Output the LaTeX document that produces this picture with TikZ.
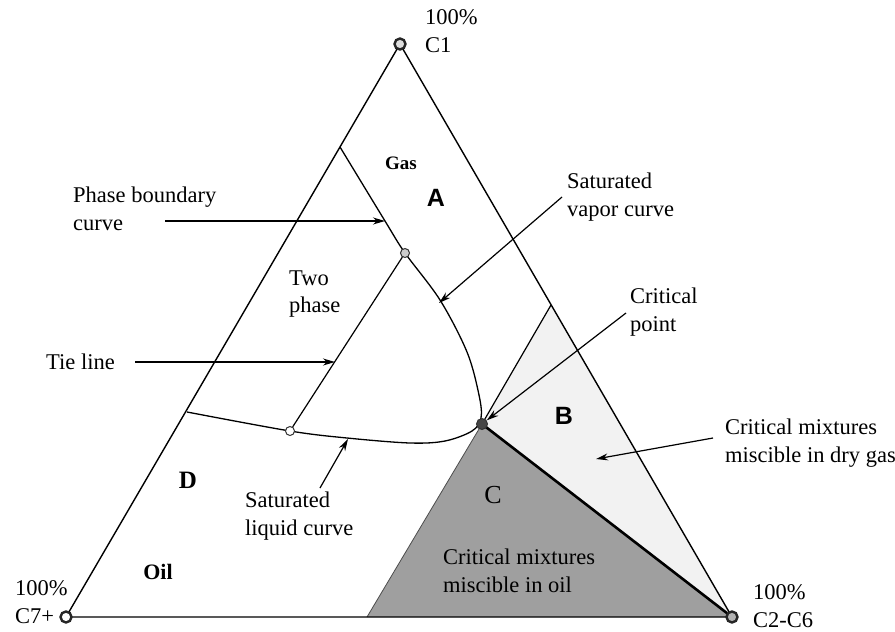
\documentclass[tikz,border=0pt]{standalone}
\usepackage{fontspec}
\setmainfont{Liberation Serif}
\newfontfamily\regionfont{Liberation Sans}
\usetikzlibrary{arrows.meta}

\begin{document}
\begin{tikzpicture}[x=1pt,y=-1pt,>={Stealth[length=12pt,width=7pt]},
  lbl/.style={anchor=west,align=left,inner sep=0pt,font=\fontsize{22.5}{27.5}\selectfont},
  ptr/.style={->,line width=1.2pt},
  vtx/.style={circle,draw=black!85,line width=2.4pt,fill=gray!25,minimum size=11pt,inner sep=0pt},
  tie/.style={circle,draw=black!80,line width=1pt,fill=white,minimum size=9pt,inner sep=0pt}]
  \useasboundingbox (0,0) rectangle (895,632);
  % ---- corners and key points ----
  \coordinate (top) at (400,44);
  \coordinate (left) at (66,617);
  \coordinate (right) at (732,617);
  \coordinate (crit) at (482,424);
  \coordinate (bedge) at (551,305);
  \coordinate (cfoot) at (367,617);
  % ---- miscible regions B and C ----
  \fill[gray!10] (crit) -- (bedge) -- (right) -- cycle;
  \fill[gray!75] (crit) -- (cfoot) -- (right) -- cycle;
  \draw[black!70,line width=0.8pt] (crit) -- (cfoot);
  \draw[line width=1.2pt] (crit) -- (bedge);
  \draw[line width=2.6pt] (crit) -- (right);
  % ---- ternary triangle ----
  \draw[line width=1.4pt,line join=round] (top) -- (left) -- (right) -- cycle;
  % ---- phase boundary (vapor + liquid) ----
  \draw[line width=1.3pt] plot[smooth,tension=0.55] coordinates
    {(340,147) (385,221) (405,253) (440,300) (467,352) (479,395) (481,418)
     (472,431) (445,441) (410,443) (347,438) (290,431) (187,412)};
  % ---- tie line ----
  \node[tie,fill=gray!40] (tieV) at (405,253) {};
  \node[tie] (tieL) at (290,431) {};
  \draw[line width=1.2pt] (tieL) -- (tieV);
  % ---- corner markers ----
  \node[vtx] (c1) at (top) {};
  \node[vtx,fill=white] (c7) at (left) {};
  \node[vtx,fill=gray!60] (c26) at (right) {};
  \node[circle,fill=gray!55!black,draw=black!80,line width=1pt,minimum size=11pt,inner sep=0pt] (cp) at (crit) {};
  % ---- corner labels ----
  \node[lbl] (l1) at (425,31) {100\%\\C1};
  \node[lbl] (l7) at (15,602) {100\%\\C7+};
  \node[lbl] (l26) at (753,606) {100\%\\C2-C6};
  % ---- region letters ----
  \node[font=\fontsize{19}{22}\selectfont\bfseries] (gas) at (401,163) {Gas};
  \node[font=\fontsize{22}{24}\selectfont\bfseries] (oil) at (158,572) {Oil};
  \node[font=\fontsize{25}{28}\selectfont\regionfont\bfseries] (rA) at (436,198) {A};
  \node[font=\fontsize{25}{28}\selectfont\regionfont\bfseries] (rB) at (564,416) {B};
  \node[font=\fontsize{26}{28}\selectfont] (rC) at (493,495) {C};
  \node[font=\fontsize{25}{28}\selectfont\bfseries] (rD) at (188,480) {D};
  \node[lbl] (two) at (289,294) {Two\\phase};
  % ---- callouts ----
  \node[lbl] (pb) at (73,209) {Phase boundary\\curve};
  \node[lbl] (tl) at (46,362) {Tie line};
  \node[lbl] (sv) at (567,197) {Saturated\\vapor curve};
  \node[lbl] (cpl) at (630,312) {Critical\\point};
  \node[lbl] (dg) at (725,443) {Critical mixtures\\miscible in dry gas};
  \node[lbl] (sl) at (245,516) {Saturated\\liquid curve};
  \node[lbl] (mo) at (443,571) {Critical mixtures\\miscible in oil};
  \coordinate (pbT) at (165,221); \coordinate (pbH) at (385,221);
  \coordinate (tlT) at (135,362); \coordinate (tlH) at (335,362);
  \coordinate (svT) at (562,197); \coordinate (svH) at (439,303);
  \coordinate (cpT) at (626,313);
  \coordinate (dgT) at (713,438); \coordinate (dgH) at (596,459);
  \coordinate (slT) at (320,488); \coordinate (slH) at (348,439);
  \draw[ptr] (pbT) -- (pbH);
  \draw[ptr] (tlT) -- (tlH);
  \draw[ptr] (svT) -- (svH);
  \draw[ptr] (cpT) -- (cp);
  \draw[ptr] (dgT) -- (dgH);
  \draw[ptr] (slT) -- (slH);
\end{tikzpicture}
\end{document}
